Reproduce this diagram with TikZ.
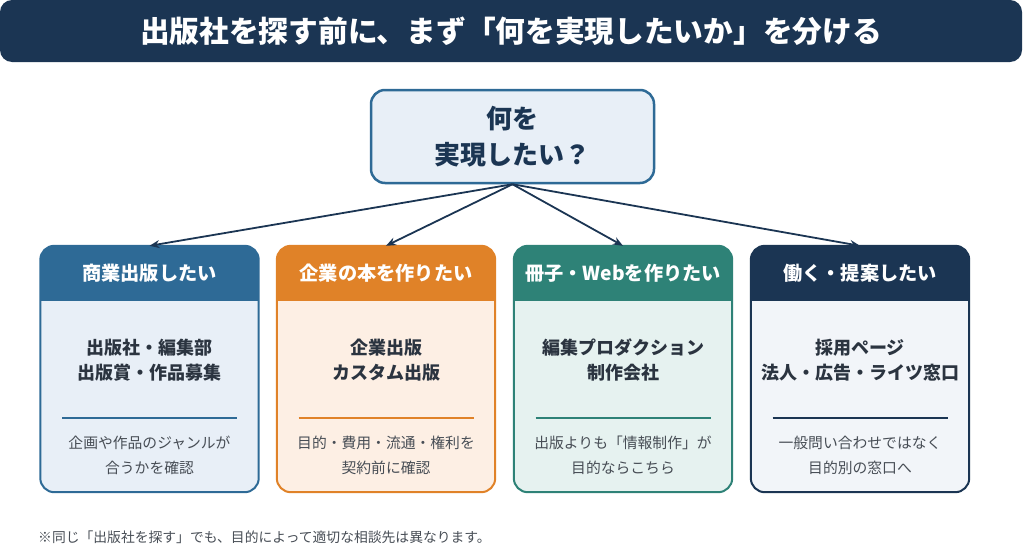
\documentclass[tikz,border=0pt]{standalone}
\usepackage{fontspec}
\setmainfont{Noto Sans CJK JP}
\usetikzlibrary{arrows.meta,calc}
\definecolor{navy}{HTML}{1B3553}
\definecolor{cblue}{HTML}{2E6A96}
\definecolor{corange}{HTML}{E08228}
\definecolor{cteal}{HTML}{2E8277}
\definecolor{bblue}{HTML}{E8EFF7}
\definecolor{borange}{HTML}{FDEFE4}
\definecolor{bteal}{HTML}{E6F2F0}
\definecolor{bnavy}{HTML}{F2F5F9}
\definecolor{darktext}{HTML}{2B3440}
\definecolor{graytext}{HTML}{474D55}
\newcommand{\mycard}[8]{%
  % #1 name, #2 cx, #3 color, #4 body color, #5 header, #6 main, #7 sub
  \node[cardbox, fill=#4] (#1) at (#2,369) {};
  \begin{scope}
    \clip[rounded corners=14pt] (#1.north west) rectangle (#1.south east);
    \fill[#3] (#1.north west) rectangle ($(#1.north east)+(0,55)$);
  \end{scope}
  \draw[#3, line width=2pt, rounded corners=14pt] (#1.north west) rectangle (#1.south east);
  \node[headtext] (#1h) at (#2,273) {#5};
  \node[maintext] (#1m) at (#2,360) {#6};
  \draw[#3, line width=2pt] ($(#2,418)+(-87.5,0)$) -- ($(#2,418)+(87.5,0)$);
  \node[subtext] (#1s) at (#2,455.5) {#7};
}
\begin{document}
\begin{tikzpicture}[x=1pt,y=-1pt,
  titlebar/.style={fill=navy, rounded corners=12pt, minimum width=1022pt, minimum height=62pt, inner sep=0pt, text=white, font=\fontsize{29.7}{34}\selectfont\bfseries},
  topbox/.style={fill=bblue, draw=cblue, line width=2.5pt, rounded corners=14pt, minimum width=283pt, minimum height=93pt, inner sep=0pt, align=center, text=navy, font=\fontsize{26}{36}\selectfont\bfseries},
  cardbox/.style={rounded corners=14pt, minimum width=218pt, minimum height=246pt, inner sep=0pt},
  headtext/.style={text=white, font=\fontsize{19.2}{22}\selectfont\bfseries, inner sep=0pt},
  maintext/.style={text=darktext, align=center, font=\fontsize{18}{25}\selectfont\bfseries, inner sep=0pt},
  subtext/.style={text=graytext, align=center, font=\fontsize{14.8}{25}\selectfont, inner sep=0pt},
  conn/.style={navy, line width=1.8pt, -{Stealth[length=10pt,width=8pt]}},
  foot/.style={text=graytext, font=\fontsize{13.8}{16}\selectfont, inner sep=0pt, anchor=west}
]
\useasboundingbox (0,0) rectangle (1024,554);
\node[titlebar] (title) at (511,31) {出版社を探す前に、まず「何を実現したいか」を分ける};
\node[topbox] (top) at (512.5,136.5) {何を\\実現したい？};
\mycard{c1}{149.5}{cblue}{bblue}{商業出版したい}{出版社・編集部\\出版賞・作品募集}{企画や作品のジャンルが\\合うかを確認}{}
\mycard{c2}{386}{corange}{borange}{企業の本を作りたい}{企業出版\\カスタム出版}{目的・費用・流通・権利を\\契約前に確認}{}
\mycard{c3}{623}{cteal}{bteal}{冊子・Webを作りたい}{編集プロダクション\\制作会社}{出版よりも「情報制作」が\\目的ならこちら}{}
\mycard{c4}{860}{navy}{bnavy}{働く・提案したい}{採用ページ\\法人・広告・ライツ窓口}{一般問い合わせではなく\\目的別の窓口へ}{}
\draw[conn] (top.south) -- (c1.north);
\draw[conn] (top.south) -- (c2.north);
\draw[conn] (top.south) -- (c3.north);
\draw[conn] (top.south) -- (c4.north);
\node[foot] (note) at (38,537) {※同じ「出版社を探す」でも、目的によって適切な相談先は異なります。};
\end{tikzpicture}
\end{document}
